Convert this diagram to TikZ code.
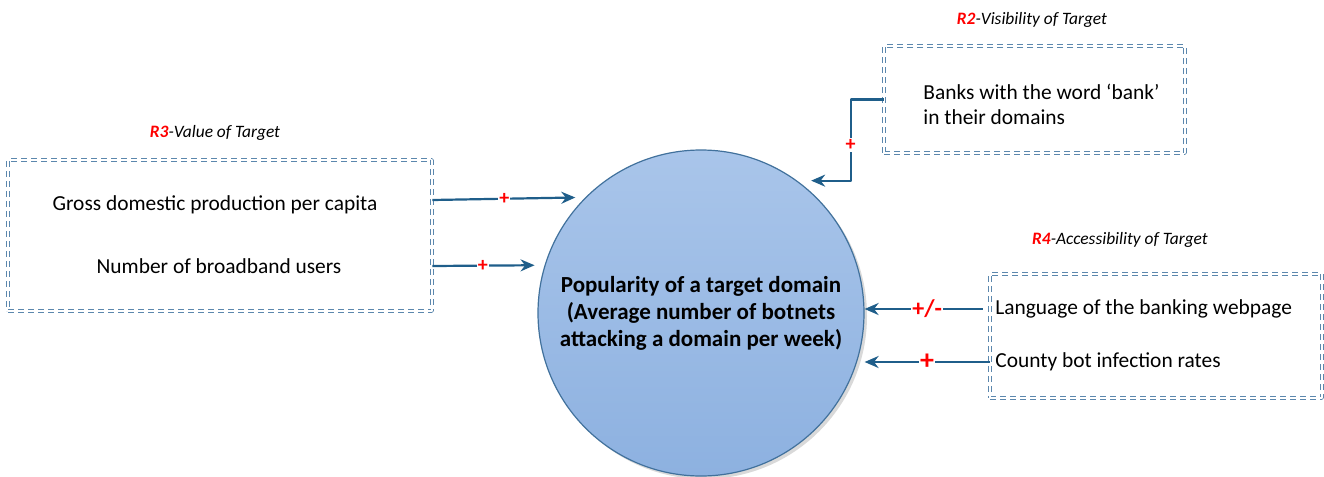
\documentclass[tikz,border=0pt]{standalone}
\usepackage{fontspec}
\setmainfont{Carlito}
\usetikzlibrary{positioning,shadows,arrows.meta}
\definecolor{linkblue}{HTML}{1F5E8A}
\definecolor{rimblue}{HTML}{41719C}
\definecolor{boxblue}{HTML}{5B87AD}
\definecolor{topblue}{HTML}{A9C5EA}
\definecolor{botblue}{HTML}{8DB1E0}
\begin{document}
\begin{tikzpicture}[x=0.5pt, y=-0.5pt, line join=round, >={Stealth[length=7pt,width=6pt]},
  box/.style={draw=boxblue, densely dashed, double=white, double distance=1pt, line width=0.4pt, inner sep=0pt},
  link/.style={->, draw=linkblue, line width=1.1pt},
  sign/.style={text=red, font=\bfseries\fontsize{10}{10}\selectfont, fill=white, inner sep=0.6pt},
  tag/.style={font=\itshape\fontsize{8.7}{10}\selectfont},
  txt/.style={font=\fontsize{10.7}{12.5}\selectfont, inner sep=0pt}]
\useasboundingbox (0,0) rectangle (1324,477);
\node[circle, minimum size=163pt, inner sep=0pt, top color=topblue, bottom color=botblue, draw=rimblue, line width=0.6pt,
  drop shadow={shadow xshift=1.5pt, shadow yshift=-1.5pt, fill=gray!50, opacity=0.6},
  align=center, font=\bfseries\fontsize{11.5}{13.5}\selectfont] (pop) at (701,313)
  {Popularity of a target domain\\(Average number of botnets\\attacking a domain per week)};
\node[box, minimum width=212pt, minimum height=75.5pt] (valbox) at (220,235.5) {};
\node[txt] (gdp) at (215,205) {Gross domestic production per capita};
\node[txt] (users) at (219,266) {Number of broadband users};
\node[tag] (r3) at (215,133) {{\bfseries\color{red}R3}-Value of Target};
\node[box, minimum width=150.5pt, minimum height=53.5pt] (visbox) at (1034.5,99.5) {};
\node[txt, anchor=west, align=left] (banks) at (923,104.5) {Banks with the word ‘bank’\\in their domains};
\node[tag] (r2) at (1032,20) {{\bfseries\color{red}R2}-Visibility of Target};
\node[box, minimum width=166pt, minimum height=62pt] (accbox) at (1156,336) {};
\node[txt, anchor=west] (lang) at (995,309) {Language of the banking webpage};
\node[txt, anchor=west] (county) at (995,362) {County bot infection rates};
\node[tag] (r4) at (1120,240) {{\bfseries\color{red}R4}-Accessibility of Target};
\draw[link, shorten >=5pt] (valbox.east |- 0,200) -- node[sign, pos=0.47]{+} (pop.135.5);
\draw[link, shorten >=5pt] (valbox.east |- users) -- node[sign, pos=0.45]{+} (pop.163.6);
\draw[link, shorten >=7pt] (visbox.west) -- ++(-33,0) |- node[sign, pos=0.28]{+} (pop.54);
\draw[link, shorten <=3.5pt] (accbox.west |- lang) -- node[sign, font=\bfseries\fontsize{12}{12}\selectfont]{+/-} (pop.east |- lang);
\draw[link] (accbox.west |- county) -- node[sign, font=\bfseries\fontsize{14}{14}\selectfont]{+} (pop.east |- county);
\end{tikzpicture}
\end{document}
